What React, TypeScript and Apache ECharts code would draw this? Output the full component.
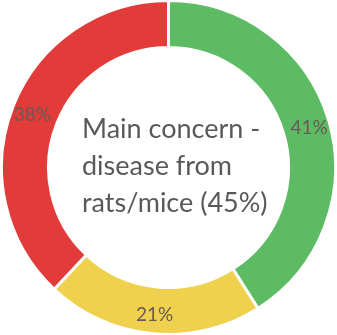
import React, { useEffect, useRef } from "react";
import * as echarts from "echarts";

const categories = ["Green", "Yellow", "Red"];
const values = [41, 21, 38];
const colors = ["#5DBB63", "#EFD14D", "#E23B3A"];
const centerLines = ["Main concern -", "disease from", "rats/mice (45%)"];

export default function App() {
  const ref = useRef<HTMLDivElement>(null);
  useEffect(() => {
    const chart = echarts.init(ref.current!, null, { renderer: "svg" });
    chart.setOption({
      animation: false,
      graphic: [
        {
          type: "text",
          left: 82,
          top: 109,
          style: {
            text: centerLines.join("\n"),
            font: "27px Lato",
            lineHeight: 37,
            fill: "#595959",
            textAlign: "left",
          },
        },
      ],
      series: [
        {
          type: "pie",
          center: ["50%", "50%"],
          radius: [120, 167],
          startAngle: 90,
          clockwise: true,
          itemStyle: { borderColor: "#ffffff", borderWidth: 3 },
          label: {
            show: true,
            position: "inside",
            formatter: "{c}%",
            color: "#6a5a55",
            fontFamily: "Lato",
            fontSize: 19,
          },
          labelLine: { show: false },
          data: categories.map((c, i) => ({
            name: c,
            value: values[i],
            itemStyle: { color: colors[i] },
          })),
        },
      ],
    });
    return () => chart.dispose();
  }, []);
  return (
    <div
      ref={ref}
      style={{ position: "fixed", left: 0, top: 0, width: 337, height: 335 }}
    />
  );
}
